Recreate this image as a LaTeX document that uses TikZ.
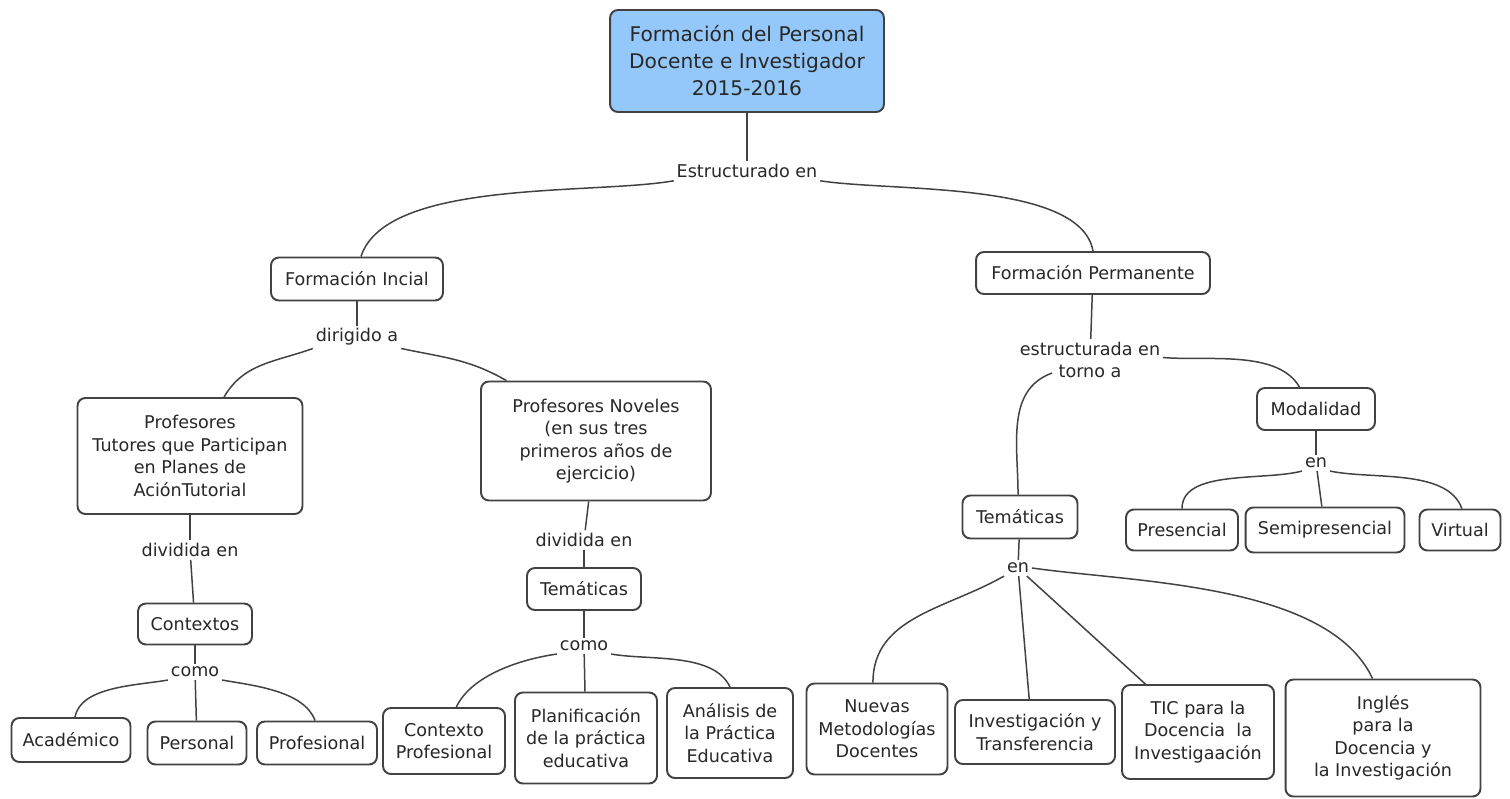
\documentclass[tikz,border=0pt]{standalone}
\usepackage{fontspec}
\setmainfont{DejaVu Sans}
\usetikzlibrary{positioning}
\definecolor{rootblue}{RGB}{148,200,250}
\definecolor{linegray}{RGB}{66,66,66}
\definecolor{textgray}{RGB}{40,40,40}

\begin{document}
\begin{tikzpicture}[x=0.02cm, y=0.02cm,
    concept/.style={draw=linegray, line width=1.1pt, rounded corners=4.5pt, fill=white, align=center, inner xsep=0.12cm, inner ysep=0.1cm, text=textgray, font=\fontsize{10}{12.8}\selectfont},
    rootconcept/.style={concept, fill=rootblue, font=\fontsize{11.5}{15.4}\selectfont},
    dims/.style 2 args={minimum width=#1cm, minimum height=#2cm},
    linkword/.style={inner sep=1.5pt, align=center, text=textgray, font=\fontsize{10}{12.8}\selectfont},
    edge/.style={draw=linegray, line width=0.85pt}]
    \useasboundingbox (0,0) rectangle (1510,-798);

    \node[rootconcept, dims={5.48}{2.04}] (root) at (747,-61) {Formación del Personal\\Docente e Investigador\\2015-2016};
    \node[linkword] (est) at (747,-171) {Estructurado en};

    \node[concept, dims={3.44}{0.86}] (inicial) at (357,-279) {Formación Incial};
    \node[concept, dims={4.68}{0.84}] (permanente) at (1093,-273) {Formación Permanente};

    \node[linkword] (dirigido) at (357,-337) {dirigido a};
    \node[concept, dims={4.5}{2.32}] (tutores) at (190,-456) {Profesores\\Tutores que Participan\\en Planes de\\AciónTutorial};
    \node[concept, dims={4.6}{2.38}] (noveles) at (596,-441) {Profesores Noveles\\(en sus tres\\primeros años de\\ejercicio)};

    \node[linkword] (divtut) at (190,-550) {dividida en};
    \node[concept, dims={2.28}{0.82}] (contextos) at (195,-624) {Contextos};
    \node[linkword] (comotut) at (195,-672) {como};
    \node[concept, dims={2.38}{0.88}] (academico) at (71,-740) {Académico};
    \node[concept, dims={1.98}{0.86}] (personal) at (197,-743) {Personal};
    \node[concept, dims={2.4}{0.86}] (profesional) at (317,-743) {Profesional};

    \node[linkword] (divnov) at (584,-540) {dividida en};
    \node[concept, dims={2.28}{0.84}] (temnov) at (584,-589) {Temáticas};
    \node[linkword] (comonov) at (584,-646) {como};
    \node[concept, dims={2.44}{1.32}] (ctxprof) at (444,-741) {Contexto\\Profesional};
    \node[concept, dims={2.84}{1.82}] (planif) at (586,-738) {Planificación\\de la práctica\\educativa};
    \node[concept, dims={2.52}{1.8}] (analisis) at (730,-733) {Análisis de\\la Práctica\\Educativa};

    \node[linkword] (estperm) at (1090,-360) {estructurada en\\torno a};
    \node[concept, dims={2.36}{0.84}] (modalidad) at (1316,-409) {Modalidad};
    \node[linkword] (enmod) at (1316,-463) {en};
    \node[concept, dims={2.24}{0.82}] (presencial) at (1182,-530) {Presencial};
    \node[concept, dims={3.18}{0.9}] (semi) at (1325,-530) {Semipresencial};
    \node[concept, dims={1.62}{0.82}] (virtual) at (1460,-530) {Virtual};

    \node[concept, dims={2.3}{0.86}] (temperm) at (1020,-517) {Temáticas};
    \node[linkword] (entem) at (1018,-568) {en};
    \node[concept, dims={2.82}{1.82}] (nuevas) at (877,-729) {Nuevas\\Metodologías\\Docentes};
    \node[concept, dims={3.2}{1.28}] (invest) at (1035,-732) {Investigación y\\Transferencia};
    \node[concept, dims={3.04}{1.88}] (tic) at (1198,-732) {TIC para la\\Docencia~~la\\Investigaación};
    \node[concept, dims={3.9}{2.34}] (ingles) at (1383,-738) {Inglés\\para la\\Docencia y\\la Investigación};

    \draw[edge] (root) -- (est);
    \draw[edge] (est.south west) to[out=190,in=72,looseness=0.65] (inicial.80);
    \draw[edge] (est.south east) to[out=-9,in=100,looseness=0.65] (permanente.north);

    \draw[edge] (inicial) -- (dirigido);
    \draw[edge] (dirigido.south west) to[out=200,in=60] (tutores.60);
    \draw[edge] (dirigido.south east) to[out=-12,in=150] (noveles.146);

    \draw[edge] (tutores) -- (divtut);
    \draw[edge] (divtut) -- (contextos);
    \draw[edge] (contextos) -- (comotut);
    \draw[edge] (comotut.south west) to[out=190,in=80,looseness=0.8] (academico.80);
    \draw[edge] (comotut) -- (personal);
    \draw[edge] (comotut.south east) to[out=-10,in=110,looseness=0.8] (profesional.95);

    \draw[edge] (noveles) -- (divnov);
    \draw[edge] (divnov) -- (temnov);
    \draw[edge] (temnov) -- (comonov);
    \draw[edge] (comonov.south west) to[out=188,in=65,looseness=0.8] (ctxprof.70);
    \draw[edge] (comonov) -- (planif);
    \draw[edge] (comonov.south east) to[out=-10,in=115,looseness=0.8] (analisis.north);

    \draw[edge] (permanente) -- (estperm);
    \draw[edge] ([xshift=-0.76cm,yshift=0.16cm]estperm.south) to[out=200,in=90] (temperm.95);
    \draw[edge] ([yshift=0.05cm]estperm.east) to[out=-5,in=120,looseness=0.8] (modalidad.127);
    \draw[edge] (modalidad) -- (enmod);
    \draw[edge] (enmod.south west) to[out=195,in=90,looseness=0.8] (presencial.north);
    \draw[edge] (enmod) -- (semi);
    \draw[edge] (enmod.south east) to[out=-12,in=110,looseness=0.8] (virtual.85);

    \draw[edge] (temperm) -- (entem);
    \draw[edge] (entem.south west) to[out=210,in=90] (nuevas.95);
    \draw[edge] (entem) -- (invest.100);
    \draw[edge] (entem) -- (tic);
    \draw[edge] (entem.east) to[out=-8,in=115,looseness=0.75] (ingles.100);
\end{tikzpicture}
\end{document}
